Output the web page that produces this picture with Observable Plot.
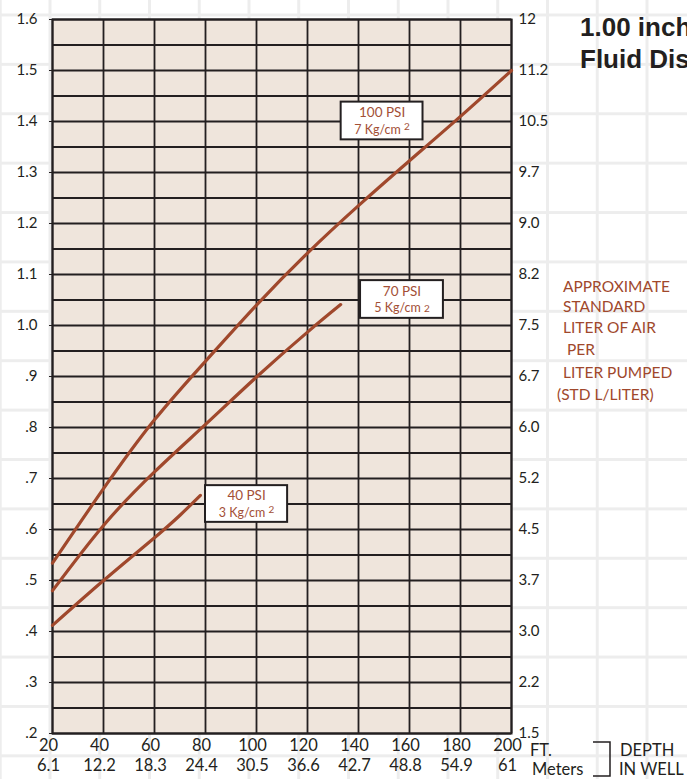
<!DOCTYPE html>
<html>
<head>
<meta charset="utf-8">
<script src="https://cdn.jsdelivr.net/npm/d3@7"></script>
<script src="https://cdn.jsdelivr.net/npm/@observablehq/plot@0.6"></script>
<style>
html, body { margin: 0; padding: 0; }
body {
  width: 687px; height: 779px; overflow: hidden; position: relative;
  background-color: #ffffff;
  background-image:
    linear-gradient(90deg, #ededed 3px, transparent 3px),
    linear-gradient(180deg, #ededed 3px, transparent 3px);
  background-size: 49.75px 779px, 687px 49.4px;
  background-position: 48.5px 0, 0 13.5px;
  font-family: Lato, sans-serif;
}
#chart { position: absolute; left: 0; top: 0; }
#overlay { position: absolute; left: 0; top: 0; pointer-events: none; }
</style>
</head>
<body>
<div id="chart"></div>
<svg id="overlay" width="687" height="779" font-family="Lato, sans-serif">
  <g font-family="'Liberation Sans', Arial, sans-serif" font-weight="bold" font-size="26" fill="#231f20">
    <text x="580" y="36">1.00 inch</text>
    <text x="580" y="68">Fluid Discharge</text>
  </g>
  <g font-size="15.5" fill="#a0482c">
    <text x="563" y="292">APPROXIMATE</text>
    <text x="563" y="312">STANDARD</text>
    <text x="563" y="333">LITER OF AIR</text>
    <text x="567" y="355">PER</text>
    <text x="563" y="378">LITER PUMPED</text>
    <text x="557" y="400">(STD L/LITER)</text>
  </g>
  <g font-size="16.5" fill="#231f20">
    <text x="530" y="756">FT.</text>
    <text x="532" y="775">Meters</text>
    <text x="620" y="756">DEPTH</text>
    <text x="619" y="775">IN WELL</text>
  </g>
  <path d="M593,742H610V776H593" fill="none" stroke="#231f20" stroke-width="1.5"/>
</svg>
<script>
// ---- data ----
const depthFt = [20, 40, 60, 80, 100, 120, 140, 160, 180, 200];
const depthM = ["6.1", "12.2", "18.3", "24.4", "30.5", "36.6", "42.7", "48.8", "54.9", "61"];
const airTicks = [0.2, 0.3, 0.4, 0.5, 0.6, 0.7, 0.8, 0.9, 1.0, 1.1, 1.2, 1.3, 1.4, 1.5, 1.6];
const leftLabels = [".2", ".3", ".4", ".5", ".6", ".7", ".8", ".9", "1.0", "1.1", "1.2", "1.3", "1.4", "1.5", "1.6"];
const rightLabels = ["1.5", "2.2", "3.0", "3.7", "4.5", "5.2", "6.0", "6.7", "7.5", "8.2", "9.0", "9.7", "10.5", "11.2", "12"];

const psi100Depth = [20, 40, 60, 80, 100, 120, 140, 160, 180, 200];
const psi100Air   = [0.534, 0.68, 0.815, 0.93, 1.04, 1.142, 1.235, 1.323, 1.41, 1.5];
const psi70Depth  = [20, 40, 60, 80, 100, 120, 133];
const psi70Air    = [0.48, 0.608, 0.713, 0.806, 0.899, 0.987, 1.041];
const psi40Depth  = [20, 40, 60, 70, 78];
const psi40Air    = [0.412, 0.5, 0.584, 0.628, 0.667];

const seriesNames = ["100 PSI", "70 PSI", "40 PSI"];
const seriesUnits = ["7 Kg/cm^2", "5 Kg/cm_2", "3 Kg/cm^2"];
// label boxes (depth ft / air range)
const boxX1 = [133.2, 140.8, 80];
const boxX2 = [165.3, 173.3, 112.2];
const boxY1 = [1.364, 1.014, 0.614];
const boxY2 = [1.438, 1.088, 0.686];

// ---- build tables ----
const rows = [];
[[psi100Depth, psi100Air], [psi70Depth, psi70Air], [psi40Depth, psi40Air]].forEach(([xs, ys], k) => {
  xs.forEach((x, i) => rows.push({series: seriesNames[k], depth: x, air: ys[i]}));
});
const boxes = seriesNames.map((name, i) => ({
  name, unit: seriesUnits[i],
  x1: boxX1[i], x2: boxX2[i], y1: boxY1[i], y2: boxY2[i],
  cx: (boxX1[i] + boxX2[i]) / 2, cy: (boxY1[i] + boxY2[i]) / 2
}));
const gridY = d3.range(0.2, 1.6001, 0.05).map(v => +v.toFixed(2));
const ink = "#231f20";
const brown = "#a0482c";

const svg = Plot.plot({
  width: 687, height: 779,
  marginLeft: 52, marginRight: 176, marginTop: 19, marginBottom: 46,
  style: {background: "transparent", fontFamily: "Lato, sans-serif", color: ink, overflow: "visible"},
  x: {domain: [20, 200], axis: null},
  y: {domain: [0.2, 1.6], axis: null},
  marks: [
    Plot.frame({fill: "#efe5dc", stroke: null}),
    Plot.ruleY(gridY, {stroke: ink, strokeWidth: 1.8}),
    Plot.ruleX(depthFt, {stroke: ink, strokeWidth: 1.8}),
    Plot.frame({stroke: ink, strokeWidth: 2}),
    Plot.axisY({ticks: airTicks, anchor: "left", tickSize: 3, tickPadding: 12, fontSize: 15,
      tickFormat: d => leftLabels[airTicks.indexOf(d)], label: null}),
    Plot.axisY({ticks: airTicks, anchor: "right", tickSize: 0, tickPadding: 7, fontSize: 15,
      tickFormat: d => rightLabels[airTicks.indexOf(d)], label: null}),
    Plot.text(depthFt, {x: d => d, frameAnchor: "bottom", dy: 17, dx: -4, text: d => String(d), fontSize: 16.5, fill: ink}),
    Plot.text(depthFt, {x: d => d, frameAnchor: "bottom", dy: 37, dx: -4, text: (d, i) => depthM[i], fontSize: 16.5, fill: ink}),
    Plot.line(rows, {x: "depth", y: "air", z: "series", stroke: brown, strokeWidth: 3.2, curve: "natural"}),
    Plot.rect(boxes, {x1: "x1", x2: "x2", y1: "y1", y2: "y2", fill: "white", stroke: ink, strokeWidth: 2}),
    Plot.text(boxes, {x: "cx", y: "cy", dy: -8, text: "name", fontSize: 13.5, fill: "#a34f36"}),
    Plot.text(boxes, {x: "cx", y: "cy", dy: 9, text: "unit", fontSize: 12.5, fill: "#a34f36"})
  ]
});

// superscript / small "2" in unit labels
d3.select(svg).selectAll("text").each(function() {
  const t = this.textContent;
  const m = t.match(/^(.*Kg\/cm)([\^_])2$/);
  if (!m) return;
  const el = d3.select(this);
  el.text(m[1] + " ");
  el.append("tspan").attr("font-size", 10).attr("dy", m[2] === "^" ? -4 : 0).text("2");
});

document.getElementById("chart").appendChild(svg);
</script>
</body>
</html>
